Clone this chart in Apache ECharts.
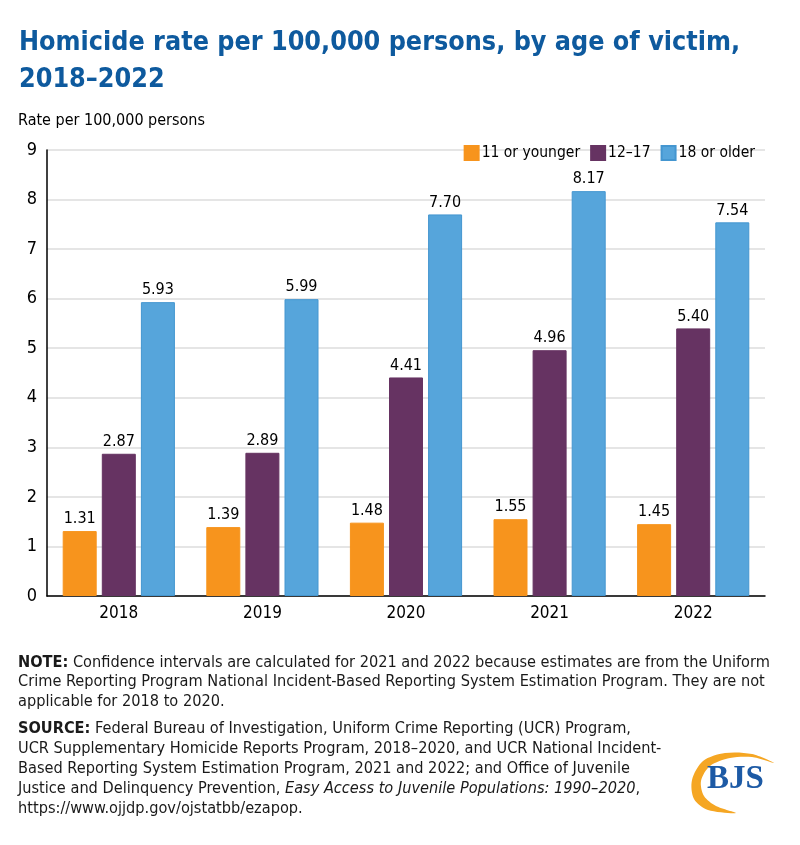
<!DOCTYPE html>
<html>
<head>
<meta charset="utf-8">
<script src="https://cdn.jsdelivr.net/npm/echarts@6/dist/echarts.min.js"></script>
<style>
  html, body {margin: 0; padding: 0; background: #fff;}
  #chart {width: 800px; height: 845px;}
</style>
</head>
<body>
<div id="chart"></div>
<script>
const years = ['2018', '2019', '2020', '2021', '2022'];
const age11 = [1.31, 1.39, 1.48, 1.55, 1.45];
const age12to17 = [2.87, 2.89, 4.41, 4.96, 5.40];
const age18 = [5.93, 5.99, 7.70, 8.17, 7.54];
const seriesNames = ['11 or younger', '12\u201317', '18 or older'];
const yTicks = [0, 1, 2, 3, 4, 5, 6, 7, 8, 9];

const narrow = "'Liberation Sans Narrow', 'DejaVu Sans Condensed', sans-serif";
const colors = ['#F7941D', '#663362', '#56A5DB'];

const chart = echarts.init(document.getElementById('chart'));

const labelStyle = {
  show: true,
  position: 'top',
  distance: 4,
  color: '#000',
  fontFamily: narrow,
  fontSize: 16,
  formatter: p => p.value.toFixed(2)
};

function bar(name, data, i) {
  return {
    name: name,
    type: 'bar',
    data: data,
    barWidth: 34,
    barGap: '15%',
    itemStyle: {
      color: colors[i],
      borderColor: i === 2 ? '#4496D0' : colors[i],
      borderWidth: 1
    },
    label: labelStyle
  };
}

chart.setOption({
  animation: false,
  color: colors,
  title: [
    {
      text: 'Homicide rate per 100,000 persons, by age of victim,\n2018\u20132022',
      left: 14,
      top: 20,
      textStyle: {
        color: '#0E5A9E',
        fontFamily: narrow,
        fontWeight: 'bold',
        fontSize: 26.7,
        lineHeight: 37
      }
    },
    {
      text: 'Rate per 100,000 persons',
      left: 13,
      top: 108,
      textStyle: {color: '#000', fontFamily: narrow, fontWeight: 'normal', fontSize: 16}
    }
  ],
  legend: {
    data: seriesNames,
    right: 40,
    top: 140,
    itemWidth: 14,
    itemHeight: 14,
    itemGap: 10,
    icon: 'rect',
    textStyle: {color: '#000', fontFamily: narrow, fontSize: 15.5, padding: [0, 0, 0, -2]}
  },
  grid: {left: 47, right: 35, top: 150, bottom: 249},
  xAxis: {
    type: 'category',
    data: years,
    axisLine: {lineStyle: {color: '#000', width: 1.5}},
    axisTick: {show: false},
    axisLabel: {color: '#000', fontFamily: narrow, fontSize: 17, margin: 9}
  },
  yAxis: {
    type: 'value',
    min: yTicks[0],
    max: yTicks[yTicks.length - 1],
    interval: 1,
    axisLine: {show: true, lineStyle: {color: '#000', width: 1.5}},
    axisTick: {show: false},
    splitLine: {lineStyle: {color: '#DCDCDC', width: 1.5}},
    axisLabel: {color: '#000', fontFamily: narrow, fontSize: 18, margin: 10}
  },
  series: [
    bar(seriesNames[0], age11, 0),
    bar(seriesNames[1], age12to17, 1),
    bar(seriesNames[2], age18, 2)
  ],
  graphic: [
    {
      type: 'text',
      left: 18,
      top: 653,
      style: {
        text: '{b|NOTE:} Confidence intervals are calculated for 2021 and 2022 because estimates are from the Uniform\nCrime Reporting Program National Incident-Based Reporting System Estimation Program. They are not\napplicable for 2018 to 2020.',
        fontFamily: narrow,
        fontSize: 16.2,
        lineHeight: 19.5,
        fill: '#1a1a1a',
        rich: {b: {fontWeight: 'bold', fontFamily: narrow, fontSize: 16.2}}
      }
    },
    {
      type: 'text',
      left: 18,
      top: 719,
      style: {
        text: '{b|SOURCE:} Federal Bureau of Investigation, Uniform Crime Reporting (UCR) Program,\nUCR Supplementary Homicide Reports Program, 2018\u20132020, and UCR National Incident-\nBased Reporting System Estimation Program, 2021 and 2022; and Office of Juvenile\nJustice and Delinquency Prevention, {i|Easy Access to Juvenile Populations: 1990\u20132020},\nhttps://www.ojjdp.gov/ojstatbb/ezapop.',
        fontFamily: narrow,
        fontSize: 16.2,
        lineHeight: 20,
        fill: '#1a1a1a',
        rich: {
          b: {fontWeight: 'bold', fontFamily: narrow, fontSize: 16.2},
          i: {fontStyle: 'italic', fontFamily: narrow, fontSize: 16.2}
        }
      }
    },
    {
      type: 'polygon',
      shape: {
        points: [[774, 763], [752, 754], [725, 753], [703, 761], [692, 780], [694, 799],
                 [708, 810], [736, 813], [716, 806], [704, 796], [701, 781], [710, 766],
                 [730, 758], [752, 757]],
        smooth: 0.3
      },
      style: {fill: '#F5A623'}
    },
    {
      type: 'text',
      left: 707,
      top: 763,
      style: {
        text: 'BJS',
        fontFamily: "'Liberation Serif', 'DejaVu Serif', serif",
        fontWeight: 'bold',
        fontSize: 33,
        fill: '#1D5AA5'
      }
    }
  ]
});
</script>
</body>
</html>
